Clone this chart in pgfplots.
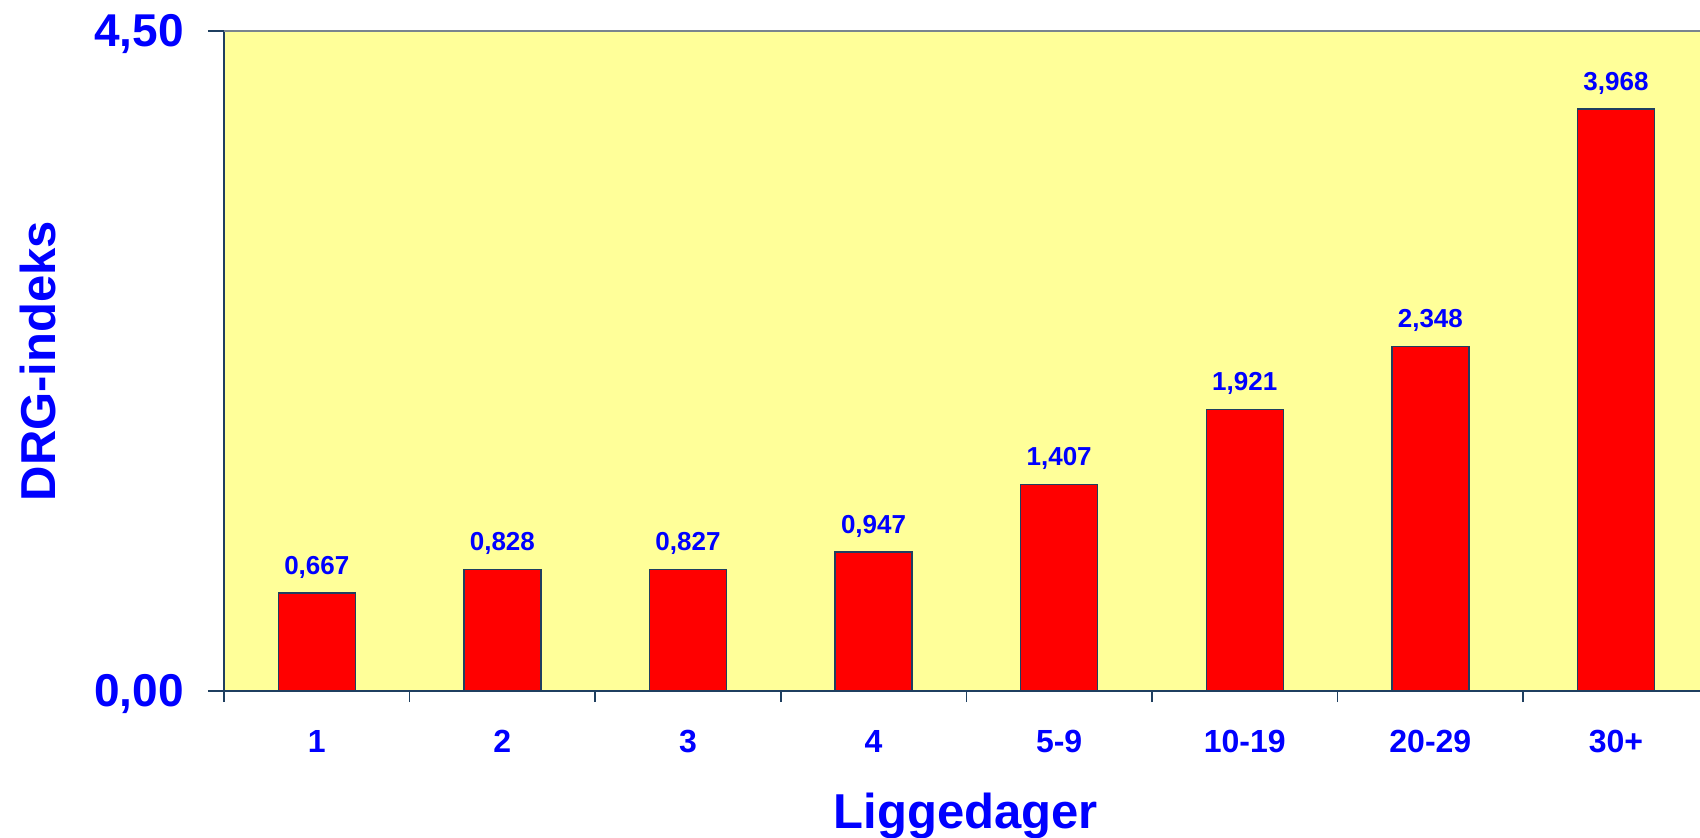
\documentclass[border=0pt]{standalone}
\usepackage{pgfplots}
\pgfplotsset{compat=1.18}
\usepackage{fontspec}
\setmainfont{Liberation Sans}
\definecolor{bgy}{HTML}{FFFF99}
\definecolor{navy}{HTML}{1F3F60}
\definecolor{topg}{HTML}{7A858E}
\begin{document}
\begin{tikzpicture}
\path[use as bounding box] (-112pt,-73pt) rectangle (738pt,345.5pt);
\begin{axis}[
  at={(0,0)}, anchor=south west,
  scale only axis, width=738pt, height=330pt,
  xmin=-0.5, xmax=7.453, ymin=0, ymax=4.5,
  axis background/.style={fill=bgy},
  axis lines*=left,
  axis line style={navy, line width=0.9pt},
  clip=false,
  ybar, bar width=38.5pt,
  xtick={0,...,7},
  xticklabels={1,2,3,4,5-9,10-19,20-29,30+},
  minor xtick={-0.5,0.5,...,6.5},
  ytick={0,4.5},
  yticklabels={{0,00},{4,50}},
  tick align=outside,
  major x tick style={draw=none},
  minor x tick style={navy, line width=0.8pt},
  minor tick length=5.5pt,
  major tick length=8pt,
  y tick style={navy, line width=0.8pt},
  xticklabel style={font=\fontsize{16}{19}\selectfont\bfseries, text=blue, anchor=base, yshift=-22.5pt},
  yticklabel style={font=\fontsize{23}{28}\selectfont\bfseries, text=blue, xshift=-8.5pt, yshift=-1.5pt},
  xlabel={Liggedager},
  xlabel style={at={(axis description cs:0.5027,-0.2076)}, anchor=base, font=\fontsize{24.5}{29}\selectfont\bfseries, text=blue},
  ylabel={DRG-indeks},
  ylabel style={at={(axis description cs:-0.126,0.5)}, anchor=center, font=\fontsize{24.5}{29}\selectfont\bfseries, text=blue},
  nodes near coords={\pgfmathprintnumber[fixed,fixed zerofill,precision=3,use comma,assume math mode=true]{\pgfplotspointmeta}},
  nodes near coords style={font=\fontsize{13}{16}\selectfont\bfseries, text=blue, anchor=base, yshift=9.5pt},
]
\addplot[fill=red, draw=navy, line width=0.75pt] coordinates {(0,0.667)(1,0.828)(2,0.827)(3,0.947)(4,1.407)(5,1.921)(6,2.348)(7,3.968)};
\draw[topg, line width=1.2pt] (rel axis cs:0,1) -- (rel axis cs:1,1);
\end{axis}
\end{tikzpicture}
\end{document}
